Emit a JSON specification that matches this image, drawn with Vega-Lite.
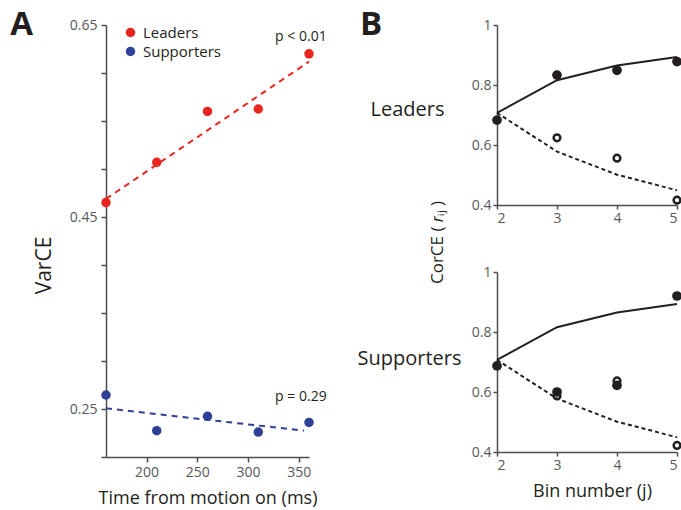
{
  "$schema": "https://vega.github.io/schema/vega-lite/v6.json",
  "padding": {"left": 10, "top": 9, "right": 0, "bottom": 0},
  "background": "white",
  "config": {
    "font": "Open Sans",
    "view": {"stroke": null},
    "axis": {"domainColor": "#4d4d4d", "tickColor": "#4d4d4d", "labelColor": "#595959", "titleColor": "#231f20", "labelFont": "Open Sans", "titleFont": "Open Sans", "titleFontWeight": "normal", "grid": false, "tickSize": 5, "labelFontSize": 14, "titleFontSize": 18, "domainWidth": 1.5, "tickWidth": 1.5},
    "title": {"font": "Open Sans", "color": "#231f20"},
    "legend": {"labelFont": "Open Sans"}
  },
  "datasets": {
    "varce": [
      {"group": "Leaders", "time": 160, "varce": 0.465},
      {"group": "Leaders", "time": 210, "varce": 0.507},
      {"group": "Leaders", "time": 260, "varce": 0.560},
      {"group": "Leaders", "time": 310, "varce": 0.5625},
      {"group": "Leaders", "time": 360, "varce": 0.620},
      {"group": "Supporters", "time": 160, "varce": 0.2646},
      {"group": "Supporters", "time": 210, "varce": 0.2274},
      {"group": "Supporters", "time": 260, "varce": 0.2424},
      {"group": "Supporters", "time": 310, "varce": 0.226},
      {"group": "Supporters", "time": 360, "varce": 0.236}
    ],
    "fit": [
      {"group": "Leaders", "time": 160, "varce": 0.4688},
      {"group": "Leaders", "time": 360, "varce": 0.6118},
      {"group": "Supporters", "time": 160, "varce": 0.2507},
      {"group": "Supporters", "time": 355, "varce": 0.2274}
    ],
    "pann": [
      {"label": "p < 0.01", "time": 352, "varce": 0.633},
      {"label": "p = 0.29", "time": 352, "varce": 0.2583}
    ],
    "cor": [
      {"group": "Leaders", "kind": "filled", "bin": 2, "r": 0.683},
      {"group": "Leaders", "kind": "filled", "bin": 3, "r": 0.833},
      {"group": "Leaders", "kind": "filled", "bin": 4, "r": 0.849},
      {"group": "Leaders", "kind": "filled", "bin": 5, "r": 0.878},
      {"group": "Leaders", "kind": "open", "bin": 3, "r": 0.624},
      {"group": "Leaders", "kind": "open", "bin": 4, "r": 0.556},
      {"group": "Leaders", "kind": "open", "bin": 5, "r": 0.416},
      {"group": "Supporters", "kind": "filled", "bin": 2, "r": 0.687},
      {"group": "Supporters", "kind": "filled", "bin": 3, "r": 0.600},
      {"group": "Supporters", "kind": "filled", "bin": 4, "r": 0.622},
      {"group": "Supporters", "kind": "filled", "bin": 5, "r": 0.920},
      {"group": "Supporters", "kind": "open", "bin": 3, "r": 0.587},
      {"group": "Supporters", "kind": "open", "bin": 4, "r": 0.637},
      {"group": "Supporters", "kind": "open", "bin": 5, "r": 0.422}
    ],
    "model": [
      {"kind": "solid", "bin": 2, "r": 0.707},
      {"kind": "solid", "bin": 3, "r": 0.816},
      {"kind": "solid", "bin": 4, "r": 0.865},
      {"kind": "solid", "bin": 5, "r": 0.893},
      {"kind": "dashed", "bin": 2, "r": 0.707},
      {"kind": "dashed", "bin": 3, "r": 0.578},
      {"kind": "dashed", "bin": 4, "r": 0.501},
      {"kind": "dashed", "bin": 5, "r": 0.449}
    ]
  },
  "spacing": 30,
  "hconcat": [
    {
      "width": 203,
      "height": 432,
      "title": {"text": "A", "anchor": "start", "frame": "bounds", "fontSize": 33, "fontWeight": "bold", "offset": -24, "dx": -23},
      "encoding": {
        "x": {"field": "time", "type": "quantitative", "scale": {"domain": [160, 360], "nice": false, "zero": false},
              "axis": {"values": [200, 250, 300, 350], "title": "Time from motion on (ms)", "titleFontSize": 18, "labelPadding": 3, "titlePadding": 10}},
        "y": {"field": "varce", "type": "quantitative", "scale": {"domain": [0.2, 0.65], "nice": false, "zero": false},
              "axis": {"values": [0.2, 0.25, 0.3, 0.35, 0.4, 0.45, 0.5, 0.55, 0.6, 0.65], "format": ".2f",
                       "labelExpr": "indexof(['0.25','0.45','0.65'], datum.label) >= 0 ? datum.label : ''",
                       "title": "VarCE", "titleFontSize": 21, "titleY": 240, "titlePadding": 15, "labelPadding": 4}}
      },
      "layer": [
        {"data": {"name": "fit"}, "transform": [{"filter": "datum.group === 'Leaders'"}],
         "mark": {"type": "line", "color": "#e8251f", "strokeDash": [6, 5], "strokeWidth": 2}},
        {"data": {"name": "fit"}, "transform": [{"filter": "datum.group === 'Supporters'"}],
         "mark": {"type": "line", "color": "#2f3f95", "strokeDash": [6, 5], "strokeWidth": 2}},
        {"data": {"name": "varce"},
         "mark": {"type": "circle", "size": 90, "opacity": 1},
         "encoding": {
           "color": {"field": "group", "type": "nominal", "scale": {"domain": ["Leaders", "Supporters"], "range": ["#e8251f", "#2f3f95"]},
                     "legend": {"title": null, "orient": "none", "legendX": 17, "legendY": 0, "labelFontSize": 15, "labelColor": "#231f20", "symbolSize": 90, "symbolType": "circle", "rowPadding": 3, "labelOffset": 5}}
         }},
        {"data": {"name": "pann"},
         "mark": {"type": "text", "fontSize": 14, "color": "#231f20", "align": "center", "baseline": "alphabetic"},
         "encoding": {"text": {"field": "label"}}}
      ]
    },
    {
      "spacing": 40,
      "title": {"text": "CorCE ( 𝑟ᵢⱼ )", "orient": "left", "anchor": "middle", "fontSize": 17, "fontWeight": "normal", "offset": -90, "dx": 12},
      "vconcat": [
        {
          "width": 180,
          "height": 180,
          "title": {"text": "B", "anchor": "start", "frame": "bounds", "fontSize": 33, "fontWeight": "bold", "offset": -24, "dx": -10},
          "encoding": {
            "x": {"field": "bin", "type": "quantitative", "scale": {"domain": [2, 5], "nice": false, "zero": false},
                  "axis": {"values": [2, 3, 4, 5], "title": null, "tickSize": 4, "labelPadding": 2}},
            "y": {"field": "r", "type": "quantitative", "scale": {"domain": [0.4, 1], "nice": false, "zero": false},
                  "axis": {"values": [0.4, 0.6, 0.8, 1], "format": ".1~f", "tickSize": 4, "labelPadding": 2,
                           "title": "Leaders", "titleAngle": 0, "titleAlign": "center", "titleBaseline": "alphabetic", "titleX": -90, "titleY": 90, "titleFontSize": 20}}
          },
          "layer": [
            {"data": {"name": "model"}, "transform": [{"filter": "datum.kind === 'solid'"}],
             "mark": {"type": "line", "color": "#231f20", "strokeWidth": 2}},
            {"data": {"name": "model"}, "transform": [{"filter": "datum.kind === 'dashed'"}],
             "mark": {"type": "line", "color": "#231f20", "strokeWidth": 2, "strokeDash": [4, 3]}},
            {"data": {"name": "cor"}, "transform": [{"filter": "datum.group === 'Leaders' && datum.kind === 'filled'"}],
             "mark": {"type": "circle", "color": "#231f20", "size": 95, "opacity": 1}},
            {"data": {"name": "cor"}, "transform": [{"filter": "datum.group === 'Leaders' && datum.kind === 'open'"}],
             "mark": {"type": "point", "filled": false, "color": "#231f20", "strokeWidth": 2.5, "size": 45, "opacity": 1}}
          ]
        },
        {
          "width": 180,
          "height": 180,
          "encoding": {
            "x": {"field": "bin", "type": "quantitative", "scale": {"domain": [2, 5], "nice": false, "zero": false},
                  "axis": {"values": [2, 3, 4, 5], "title": "Bin number (j)", "titleFontSize": 18, "tickSize": 4, "labelPadding": 2, "titlePadding": 10, "titleX": 95}},
            "y": {"field": "r", "type": "quantitative", "scale": {"domain": [0.4, 1], "nice": false, "zero": false},
                  "axis": {"values": [0.4, 0.6, 0.8, 1], "format": ".1~f", "tickSize": 4, "labelPadding": 2,
                           "title": "Supporters", "titleAngle": 0, "titleAlign": "center", "titleBaseline": "alphabetic", "titleX": -88, "titleY": 92, "titleFontSize": 20}}
          },
          "layer": [
            {"data": {"name": "model"}, "transform": [{"filter": "datum.kind === 'solid'"}],
             "mark": {"type": "line", "color": "#231f20", "strokeWidth": 2}},
            {"data": {"name": "model"}, "transform": [{"filter": "datum.kind === 'dashed'"}],
             "mark": {"type": "line", "color": "#231f20", "strokeWidth": 2, "strokeDash": [4, 3]}},
            {"data": {"name": "cor"}, "transform": [{"filter": "datum.group === 'Supporters' && datum.kind === 'filled'"}],
             "mark": {"type": "circle", "color": "#231f20", "size": 95, "opacity": 1}},
            {"data": {"name": "cor"}, "transform": [{"filter": "datum.group === 'Supporters' && datum.kind === 'open'"}],
             "mark": {"type": "point", "filled": false, "color": "#231f20", "strokeWidth": 2.5, "size": 45, "opacity": 1}}
          ]
        }
      ]
    }
  ]
}
